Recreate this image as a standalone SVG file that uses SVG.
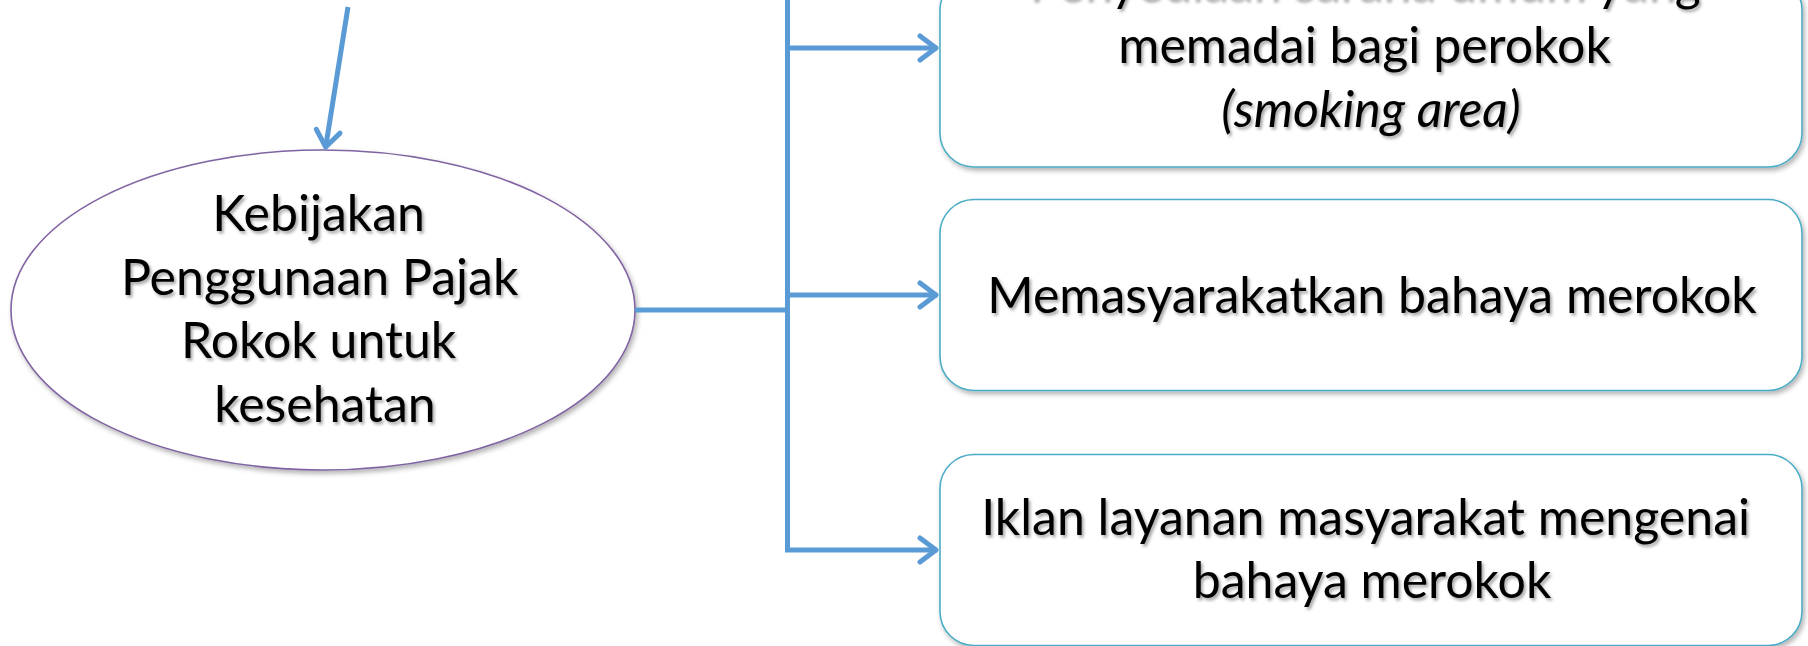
<svg xmlns="http://www.w3.org/2000/svg" width="1808" height="646" viewBox="0 0 1808 646">
  <defs>
    <filter id="shadow" x="-5%" y="-5%" width="115%" height="120%">
      <feDropShadow dx="2" dy="3" stdDeviation="2.5" flood-color="#000" flood-opacity="0.3"/>
    </filter>
    <filter id="tshadow" x="-5%" y="-20%" width="110%" height="150%">
      <feDropShadow dx="2" dy="2.5" stdDeviation="1.5" flood-color="#000" flood-opacity="0.35"/>
    </filter>
    <marker id="arrow" markerUnits="userSpaceOnUse" markerWidth="40" markerHeight="40" refX="21" refY="20" orient="auto" viewBox="0 0 40 40">
      <path d="M 4 8 L 20 20 L 4 32" fill="none" stroke="#5B9BD5" stroke-width="5" stroke-linecap="round" stroke-linejoin="round"/>
    </marker>
  </defs>
  <style>
    .conn { fill: none; stroke: #5B9BD5; stroke-width: 5; }
    .box { fill: #ffffff; stroke: #4BACC6; stroke-width: 1.6; filter: url(#shadow); }
    .oval { fill: #ffffff; stroke: #8064A2; stroke-width: 1.6; filter: url(#shadow); }
    .label { font-family: Lato, "Liberation Sans", sans-serif; font-size: 50px; fill: #000000; text-anchor: middle; filter: url(#tshadow); }
    .it { font-style: italic; }
  </style>
  <rect width="1808" height="646" fill="#ffffff"/>

  <g id="node-kebijakan">
    <ellipse class="oval" cx="323" cy="310" rx="312" ry="160"/>
    <text class="label">
      <tspan x="325" y="231">Kebijakan</tspan>
      <tspan x="326" y="295">Penggunaan Pajak</tspan>
      <tspan x="325" y="358">Rokok untuk</tspan>
      <tspan x="325" y="422">kesehatan</tspan>
    </text>
  </g>

  <g id="node-penyediaan">
    <rect class="box" x="940" y="-24" width="862" height="191" rx="34" ry="34"/>
    <text class="label">
      <tspan x="1371" y="0">Penyediaan sarana umum yang</tspan>
      <tspan x="1371" y="63">memadai bagi perokok</tspan>
      <tspan x="1371" y="127" class="it">(smoking area)</tspan>
    </text>
  </g>

  <g id="node-memasyarakatkan">
    <rect class="box" x="940" y="199.5" width="862" height="191" rx="34" ry="34"/>
    <text class="label" x="1372" y="313">Memasyarakatkan bahaya merokok</text>
  </g>

  <g id="node-iklan">
    <rect class="box" x="940" y="454.5" width="862" height="191" rx="34" ry="34"/>
    <text class="label">
      <tspan x="1372" y="535">Iklan layanan masyarakat mengenai</tspan>
      <tspan x="1372" y="598">bahaya merokok</tspan>
    </text>
  </g>

  <g id="connectors">
    <line class="conn" x1="348" y1="7" x2="325.5" y2="148" marker-end="url(#arrow)"/>
    <line class="conn" x1="635" y1="310" x2="787.5" y2="310"/>
    <line class="conn" x1="787.5" y1="0" x2="787.5" y2="550"/>
    <line class="conn" x1="785" y1="48" x2="937" y2="48" marker-end="url(#arrow)"/>
    <line class="conn" x1="787.5" y1="295" x2="937" y2="295" marker-end="url(#arrow)"/>
    <line class="conn" x1="785" y1="550" x2="937" y2="550" marker-end="url(#arrow)"/>
  </g>
</svg>
